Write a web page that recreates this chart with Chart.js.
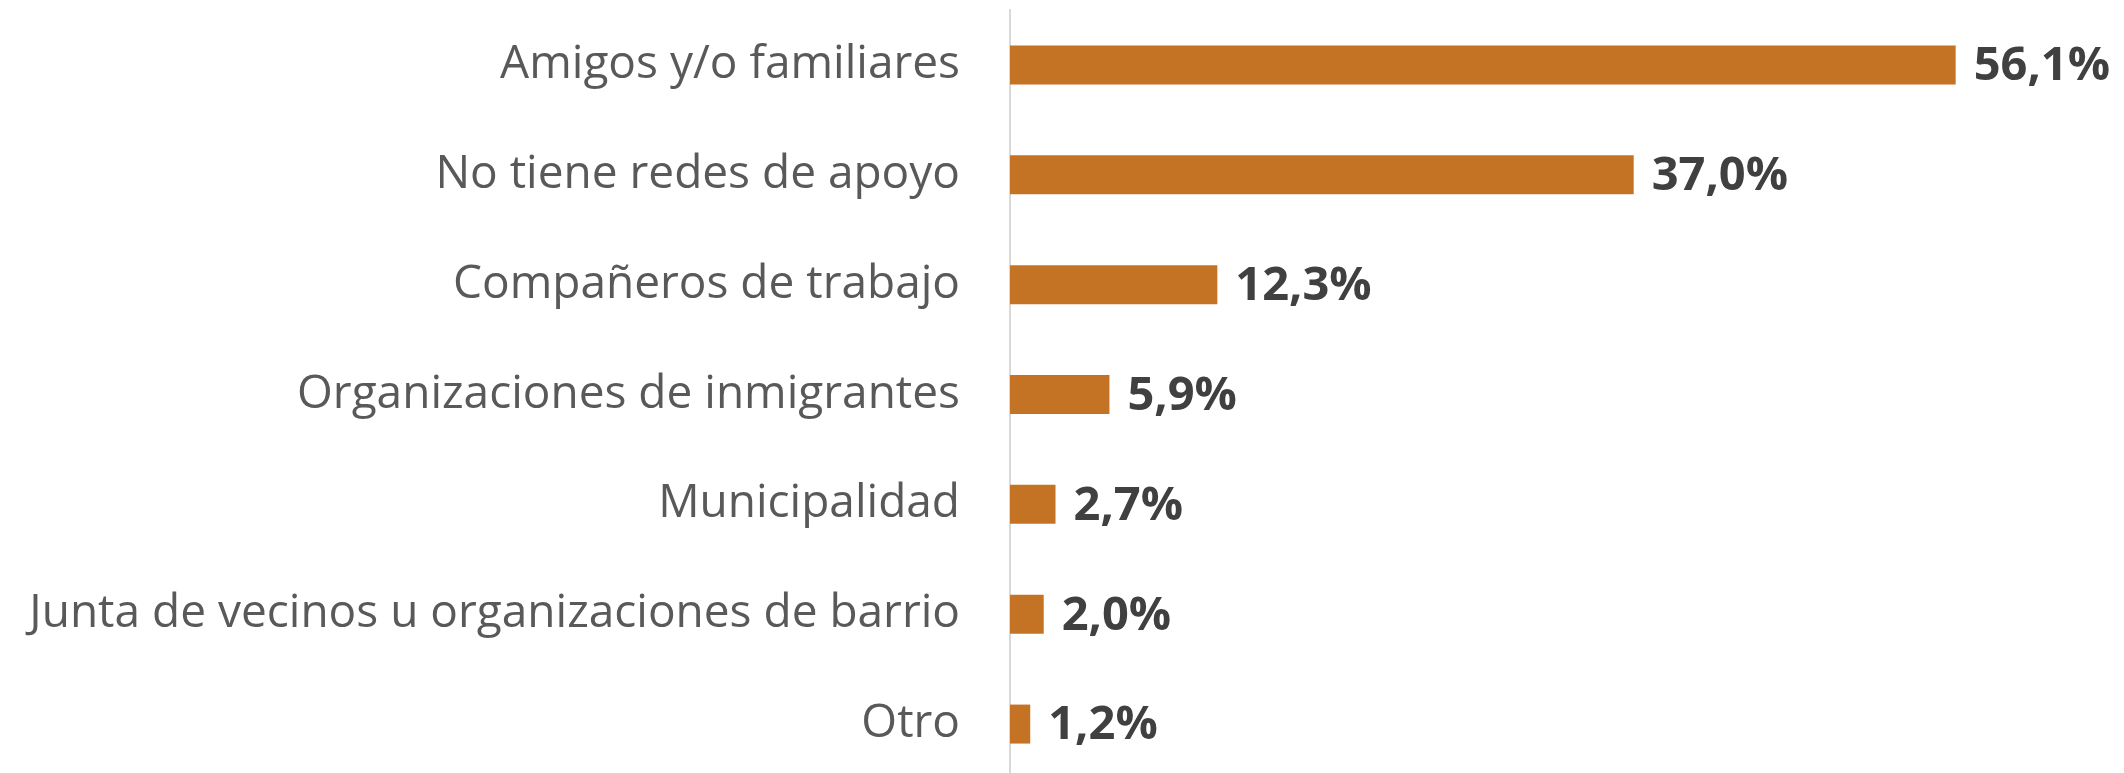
<!DOCTYPE html>
<html>
<head>
<meta charset="utf-8">
<script src="https://cdn.jsdelivr.net/npm/chart.js@4"></script>
<style>
  html, body { margin: 0; padding: 0; background: #ffffff; overflow: hidden; }
  #wrap { width: 2124px; height: 773px; overflow: hidden; }
</style>
</head>
<body>
<div id="wrap"><canvas id="chart" width="2124" height="779"></canvas></div>
<script>
const categories = [
  'Amigos y/o familiares',
  'No tiene redes de apoyo',
  'Compañeros de trabajo',
  'Organizaciones de inmigrantes',
  'Municipalidad',
  'Junta de vecinos u organizaciones de barrio',
  'Otro'
];
const values = [56.1, 37.0, 12.3, 5.9, 2.7, 2.0, 1.2];
const valueLabels = ['56,1%', '37,0%', '12,3%', '5,9%', '2,7%', '2,0%', '1,2%'];

const barColor = '#c47325';
const axisLeft = 1010;

// draws the percentage next to each bar end
const barValueLabels = {
  id: 'barValueLabels',
  afterDatasetsDraw(chart) {
    const ctx = chart.ctx;
    const meta = chart.getDatasetMeta(0);
    ctx.save();
    ctx.font = 'bold 47px "Open Sans"';
    ctx.fillStyle = '#404040';
    ctx.textAlign = 'left';
    ctx.textBaseline = 'middle';
    meta.data.forEach((bar, i) => {
      ctx.fillText(valueLabels[i], bar.x + 18, bar.y + 2);
    });
    ctx.restore();
  }
};

function createSupportChart(canvas) {
  if (!canvas || typeof Chart === 'undefined') return null;
  const ctx = canvas.getContext && canvas.getContext('2d');
  if (!ctx) return null;
  return new Chart(ctx, {
    type: 'bar',
    data: {
      labels: categories,
      datasets: [{
        data: values,
        backgroundColor: barColor,
        borderWidth: 0,
        barPercentage: 0.355,
        categoryPercentage: 1
      }]
    },
    options: {
      indexAxis: 'y',
      responsive: false,
      animation: false,
      layout: { padding: { top: 10, right: 20, bottom: 0, left: 0 } },
      plugins: { legend: { display: false }, tooltip: { enabled: false } },
      scales: {
        x: {
          display: false,
          min: 0,
          max: 64.9
        },
        y: {
          grid: { display: false, drawTicks: false },
          border: { display: true, color: '#d9d9d9', width: 2 },
          ticks: {
            color: '#595959',
            font: { family: 'Open Sans', size: 46 },
            padding: 50
          },
          afterFit(scale) {
            scale.width = axisLeft;
            scale.paddingTop = 0;
            scale.paddingBottom = 0;
          }
        }
      }
    },
    plugins: [barValueLabels]
  });
}

createSupportChart(document.getElementById('chart'));
</script>
</body>
</html>
